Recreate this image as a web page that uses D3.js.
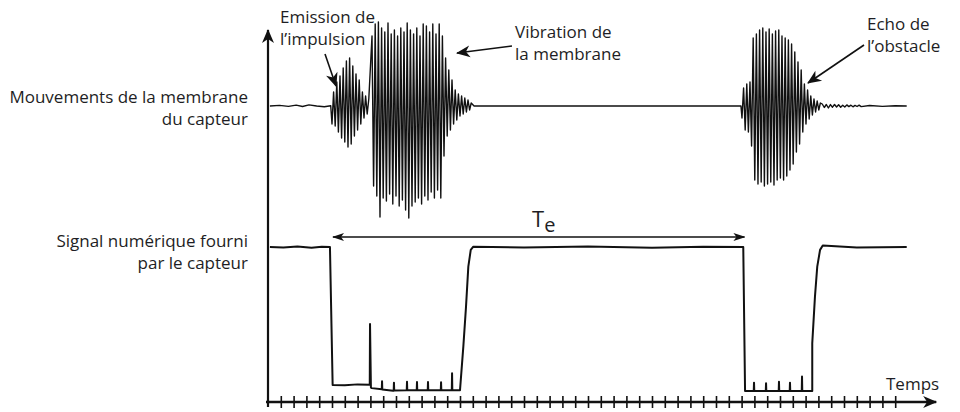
<!DOCTYPE html>
<html>
<head>
<meta charset="utf-8">
<script src="https://cdn.jsdelivr.net/npm/d3@7"></script>
<style>
  body { margin: 0; background: #fff; }
  text { font-family: "Open Sans", sans-serif; fill: #1e1e24; }
</style>
</head>
<body>
<div id="chart"></div>
<script>
// temps en graduations de l'axe, membrane en unités arbitraires, signal numérique en V
var halfPeriod = 0.125;
var burstStart = [5.0, 8.125, 37.03];

var baselineBefore = [[0.15, 0], [0.9, 0.6], [1.6, -0.4], [2.2, 0.9], [2.7, -0.5], [3.2, 1.1], [3.8, 0], [4.4, -0.7], [4.9, 0.3]];

var emissionPeaks = [-18, 14, -20, 24, -26, 30, -32, 38, -36, 45, -41, 48, -38, 40, -30, 32, -24, 26, -18, 14, -12, 10, -8, 7];

var vibrationPeaks = [70, -80, 82, -90, 84, -111, 78, -92, 74, -95, 83, -88, 72, -98, 76, -90,
  70, -100, 78, -94, 74, -104, 83, -112, 76, -100, 72, -96, 78, -92, 70, -98, 82, -90, 80, -94,
  74, -86, 82, -92, 72, -84, 82, -92, 70, -50, 48, -30, 36, -24, 26, -18, 16, -14, 12, -10,
  10, -8, 8, -6, 6, -4, 3];

var echoPeaks = [-12, 18, -24, 22, -26, 24, -40, 68, -74, 72, -78, 76, -76, 78, -80, 74,
  -78, 77, -76, 72, -79, 75, -74, 76, -72, 70, -74, 68, -70, 66, -64, 62, -58, 54, -46, 44,
  -38, 36, -26, 22, -18, 16, -13, 10, -9, 7, -6, 5, -4, 3];

var echoTail = [2, -1.5, 1.5, -2, 1.4, -1.2, 1.5, -1, 1.2, -1.2, 0.8, -1, 1.1, -0.6, 0.8, -0.8, 0.6, -0.5, 0.8, -0.6];
var tailStart = 43.3, tailStep = 0.16;
var baselineAfter = [[47, 0.5], [48, -0.4], [49, 0.3], [49.9, 0]];

var digitalSignal = [
  [0.15, 5.0], [1.2, 4.98], [2.3, 5.02], [3.4, 4.97], [4.2, 5.01], [4.84, 5.0],
  [5.05, 0.21], [6.0, 0.2], [7.0, 0.23], [7.95, 0.22], [7.97, 2.33], [8.04, 0.12], [8.1, 0.1],
  [8.89, 0.06], [8.91, 0.34], [8.93, 0.05],
  [9.77, 0.01], [9.82, 0.01], [9.84, 0.29], [9.86, 0.02],
  [10.84, 0.03], [10.86, 0.32], [10.88, 0.03],
  [11.62, 0.03], [11.64, 0.31], [11.66, 0.03],
  [12.48, 0.03], [12.5, 0.31], [12.52, 0.03],
  [13.5, 0.03], [13.52, 0.3], [13.54, 0.03],
  [14.36, 0.03], [14.38, 0.62], [14.4, 0.03],
  [15.0, 0.03], [15.26, 1.54], [15.47, 2.93], [15.65, 4.32], [15.84, 4.9], [16.04, 5.01],
  [20, 4.98], [25, 5.02], [30, 4.97], [34, 5.01], [37.13, 5.0],
  [37.27, 0.0],
  [37.95, 0.0], [37.97, 0.29], [37.99, 0.0],
  [38.89, 0.0], [38.91, 0.27], [38.93, 0.0],
  [39.9, 0.0], [39.92, 0.32], [39.94, 0.0],
  [40.76, 0.0], [40.78, 0.29], [40.8, 0.0],
  [41.7, 0.0], [41.72, 0.5], [41.74, 0.0],
  [42.52, 0.0], [42.52, 1.66], [42.73, 3.27], [42.91, 4.32], [43.13, 4.9], [43.34, 5.05],
  [46, 4.98], [49.9, 5.0]
];

var teSpan = [5.0, 37.3];
var tickValues = d3.range(1, 50);

var width = 960, height = 412;

var svg = d3.select("#chart").append("svg")
  .attr("width", width)
  .attr("height", height);

var x = d3.scaleLinear().domain([0, 52.5]).range([268, 940]);
var yTop = d3.scaleLinear().domain([-100, 100]).range([206, 6]);
var yBot = d3.scaleLinear().domain([0, 5]).range([391, 247]);

var defs = svg.append("defs");
defs.append("marker")
  .attr("id", "head")
  .attr("viewBox", "-14 -7 16 14")
  .attr("refX", 0).attr("refY", 0)
  .attr("markerWidth", 16).attr("markerHeight", 14)
  .attr("markerUnits", "userSpaceOnUse")
  .attr("orient", "auto-start-reverse")
  .append("path")
  .attr("d", "M1,0 L-13,-6 L-9,0 L-13,6 Z")
  .attr("fill", "#111");
defs.append("marker")
  .attr("id", "small")
  .attr("viewBox", "-12 -5 13 10")
  .attr("refX", 0).attr("refY", 0)
  .attr("markerWidth", 13).attr("markerHeight", 10)
  .attr("markerUnits", "userSpaceOnUse")
  .attr("orient", "auto-start-reverse")
  .append("path")
  .attr("d", "M1,0 L-11,-4 L-8,0 L-11,4 Z")
  .attr("fill", "#111");

// membrane signal
var topPoints = baselineBefore.slice();
[emissionPeaks, vibrationPeaks].forEach(function(peaks, k) {
  peaks.forEach(function(v, i) { topPoints.push([burstStart[k] + i * halfPeriod, v]); });
});
topPoints.push([16.1, 0], [36.95, 0]);
echoPeaks.forEach(function(v, i) { topPoints.push([burstStart[2] + i * halfPeriod, v]); });
echoTail.forEach(function(v, i) { topPoints.push([tailStart + i * tailStep, v]); });
topPoints = topPoints.concat(baselineAfter);

var lineTop = d3.line().x(function(d) { return x(d[0]); }).y(function(d) { return yTop(d[1]); });
svg.append("path")
  .attr("d", lineTop(topPoints))
  .attr("fill", "none")
  .attr("stroke", "#111")
  .attr("stroke-width", 1.4)
  .attr("stroke-linejoin", "round");

// digital signal
var lineBot = d3.line().x(function(d) { return x(d[0]); }).y(function(d) { return yBot(d[1]); });
svg.append("path")
  .attr("d", lineBot(digitalSignal))
  .attr("fill", "none")
  .attr("stroke", "#111")
  .attr("stroke-width", 2)
  .attr("stroke-linejoin", "round");

// axes
var xAxis = d3.axisBottom(x).tickValues(tickValues).tickSize(5).tickSizeOuter(0).tickFormat("");
var gx = svg.append("g").attr("transform", "translate(0,402)").call(xAxis);
gx.select(".domain").remove();
gx.selectAll(".tick line").attr("y1", -6).attr("y2", 6).attr("stroke", "#111").attr("stroke-width", 1.6);

svg.append("line")
  .attr("x1", 266).attr("y1", 402).attr("x2", x(52.2)).attr("y2", 402)
  .attr("stroke", "#111").attr("stroke-width", 2.4)
  .attr("marker-end", "url(#head)");
svg.append("line")
  .attr("x1", 268).attr("y1", 407).attr("x2", 268).attr("y2", 30)
  .attr("stroke", "#111").attr("stroke-width", 2.2)
  .attr("marker-end", "url(#head)");

svg.append("text").attr("x", 886).attr("y", 390).style("font-size", "17px").text("Temps");

// T_e
svg.append("line")
  .attr("x1", x(teSpan[0]) + 1).attr("y1", 237).attr("x2", x(teSpan[1]) - 1).attr("y2", 237)
  .attr("stroke", "#111").attr("stroke-width", 1.3)
  .attr("marker-start", "url(#small)")
  .attr("marker-end", "url(#small)");
var te = svg.append("text").attr("x", 532).attr("y", 227).style("font-size", "22px");
te.append("tspan").text("T");
te.append("tspan").attr("dy", 5).style("font-size", "20px").text("e");

// left labels
var labels = [
  { lines: ["Mouvements de la membrane", "du capteur"], y: 103 },
  { lines: ["Signal numérique fourni", "par le capteur"], y: 247 }
];
labels.forEach(function(l) {
  l.lines.forEach(function(s, i) {
    svg.append("text")
      .attr("x", 248).attr("y", l.y + i * 22)
      .attr("text-anchor", "end")
      .style("font-size", "17px")
      .text(s);
  });
});

// annotations
var notes = [
  { lines: ["Emission de", "l\u2019impulsion"], x: 280, y: 23, from: [325, 54], to: [336, 86] },
  { lines: ["Vibration de", "la membrane"], x: 515, y: 38, from: [512, 46], to: [457, 53] },
  { lines: ["Echo de", "l\u2019obstacle"], x: 867, y: 30, from: [864, 45], to: [808, 83] }
];
notes.forEach(function(n) {
  n.lines.forEach(function(s, i) {
    svg.append("text").attr("x", n.x).attr("y", n.y + i * 22).style("font-size", "17px").text(s);
  });
  svg.append("line")
    .attr("x1", n.from[0]).attr("y1", n.from[1]).attr("x2", n.to[0]).attr("y2", n.to[1])
    .attr("stroke", "#111").attr("stroke-width", 1.6)
    .attr("marker-end", "url(#head)");
});
</script>
</body>
</html>
